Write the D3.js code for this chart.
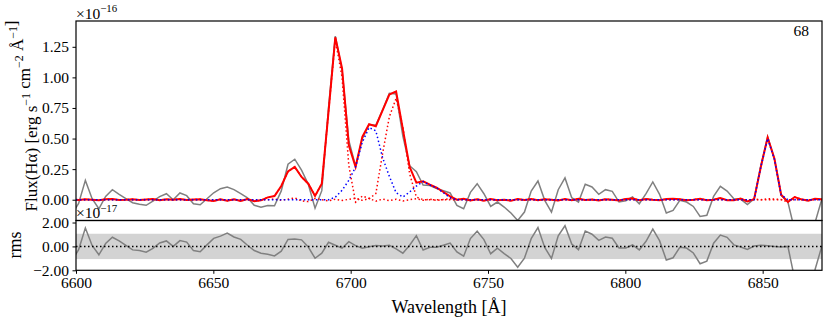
<html>
<head>
<meta charset="utf-8">
<script src="https://d3js.org/d3.v7.min.js"></script>
<style>
    body, html {
        margin: 0;
        padding: 0;
        background: #fff;
    }
    svg, svg text {
        font-family: "Liberation Serif", "DejaVu Serif", serif;
    }
</style>
</head>
<body>
<div id="chart"></div>
<script>

// spectrum sampling (Angstrom)
var lambdaStart = 6598.49;
var lambdaStep = 2.4594;

// observed flux, units of 1e-16 erg/s/cm2/A
var flux = [
    -0.12, -0.03, 0.158, 0.008, -0.074, 0.027, 0.082, 0.044, 0.008, -0.025,
    -0.038, -0.046, -0.011, 0.025, 0.049, 0.0, 0.055, 0.033, -0.033, -0.041,
    0.008, 0.057, 0.09, 0.104, 0.082, 0.049, 0.016, -0.046, -0.062, -0.047,
    -0.05, 0.072, 0.29, 0.331, 0.241, 0.126, -0.069, 0.074, 0.755, 1.338,
    1.059, 0.485, 0.275, 0.499, 0.615, 0.608, 0.734, 0.87, 0.865, 0.52,
    0.278, 0.229, 0.12, 0.116, 0.091, 0.073, 0.055, -0.046, -0.074, 0.06,
    0.131, 0.049, -0.055, -0.019, -0.06, -0.109, -0.17, -0.101, 0.071, 0.153,
    -0.005, -0.101, 0.082, 0.178, 0.016, -0.019, 0.126, 0.104, 0.044, 0.082,
    0.068, -0.019, -0.008, 0.022, -0.033, 0.049, 0.145, 0.044, -0.109, -0.087,
    -0.005, -0.019, -0.055, -0.137, -0.128, 0.027, 0.109, 0.071, 0.008, 0.005,
    -0.04, 0.008, 0.28, 0.514, 0.336, 0.036, -0.019, -0.25, -0.4, -0.35,
    -0.19, 0.0, 0.05
];

// total model (red solid)
var model = [
    0.002, -0.003, 0.004, 0.0, -0.004, 0.003, 0.005, -0.002, 0.0, 0.004,
    -0.003, 0.002, 0.005, -0.004, 0.003, 0.0, 0.006, -0.003, 0.002, 0.004,
    -0.005, -0.01, 0.004, -0.008, 0.003, -0.01, 0.006, -0.012, -0.005, 0.019,
    0.03, 0.112, 0.232, 0.268, 0.186, 0.131, 0.03, 0.131, 0.72, 1.328,
    1.074, 0.445, 0.268, 0.514, 0.617, 0.601, 0.73, 0.86, 0.885, 0.577,
    0.268, 0.139, 0.15, 0.123, 0.098, 0.063, 0.027, 0.0, 0.008, -0.006,
    0.004, -0.008, 0.006, -0.004, 0.0, -0.008, 0.005, -0.003, 0.006, -0.005,
    0.004, 0.0, -0.006, 0.005, -0.004, 0.008, -0.003, 0.002, -0.007, 0.004,
    0.0, -0.006, 0.005, 0.01, -0.004, 0.006, 0.0, -0.004, 0.005, 0.008,
    0.003, -0.005, 0.0, 0.008, -0.005, 0.0, 0.014, -0.005, -0.005, 0.01,
    -0.014, 0.005, 0.27, 0.508, 0.336, 0.041, -0.019, 0.022, 0.003, -0.008,
    0.008, 0.003, 0.0
];

// narrow component 1 (red dotted)
var narrowA = [
    0.002, -0.003, 0.004, 0.0, -0.004, 0.003, 0.005, -0.002, 0.0, 0.004,
    -0.003, 0.002, 0.005, -0.004, 0.003, 0.0, 0.006, -0.003, 0.002, 0.004,
    -0.005, -0.01, 0.004, -0.008, 0.003, -0.01, 0.006, -0.012, -0.005, 0.019,
    0.03, 0.112, 0.232, 0.268, 0.186, 0.131, 0.03, 0.131, 0.72, 1.31,
    1.0, 0.28, -0.02, 0.03, 0.01, -0.012, 0.005, -0.008, 0.004, -0.01,
    0.0, 0.008, -0.005, 0.004, -0.006, 0.002, 0.008, 0.0, 0.008, -0.006,
    0.004, -0.008, 0.006, -0.004, 0.0, -0.008, 0.005, -0.003, 0.006, -0.005,
    0.004, 0.0, -0.006, 0.005, -0.004, 0.008, -0.003, 0.002, -0.007, 0.004,
    0.0, -0.006, 0.005, 0.01, -0.004, 0.006, 0.0, -0.004, 0.005, 0.008,
    0.003, -0.005, 0.0, 0.008, -0.005, 0.0, 0.014, -0.005, -0.005, 0.01,
    -0.014, 0.005, 0.0, 0.008, 0.006, 0.001, -0.019, 0.022, 0.003, -0.008,
    0.008, 0.003, 0.0
];

// narrow component 2 (red dotted)
var narrowB = [
    0, 0, 0, 0, 0, 0, 0, 0, 0, 0,
    0, 0, 0, 0, 0, 0, 0, 0, 0, 0,
    0, 0, 0, 0, 0, 0, 0, 0, 0, 0,
    0.006, -0.004, 0.004, 0.015, -0.01, -0.015, 0.01, 0.0, -0.01, 0.004,
    -0.006, 0.003, 0.012, -0.005, 0.008, 0.05, 0.377, 0.678, 0.828, 0.596,
    0.213, 0.022, 0.0, 0, 0, 0, 0, 0, 0, 0,
    0, 0, 0, 0, 0, 0, 0, 0, 0, 0,
    0, 0, 0, 0, 0, 0, 0, 0, 0, 0,
    0, 0, 0, 0, 0, 0, 0, 0, 0, 0,
    0, 0, 0, 0, 0, 0, 0, 0, 0, 0,
    0, 0, 0, 0, 0, 0, 0, 0, 0, 0,
    0, 0, 0
];

// broad component (blue dotted)
var broad = [
    0, 0, 0, 0, 0, 0, 0, 0, 0, 0,
    0, 0, 0, 0, 0, 0, 0, 0, 0, 0,
    0, 0, 0, 0, 0, 0, 0, 0, 0, 0,
    0, 0, 0, 0, 0, 0, 0, 0, 0, 0.02,
    0.077, 0.158, 0.268, 0.47, 0.59, 0.563, 0.344, 0.191, 0.057, 0.022,
    0.063, 0.112, 0.148, 0.12, 0.098, 0.057, 0.016, 0, 0, 0,
    0, 0, 0, 0, 0, 0, 0, 0, 0, 0,
    0, 0, 0, 0, 0, 0, 0, 0, 0, 0,
    0, 0, 0, 0, 0, 0, 0, 0, 0, 0,
    0, 0, 0, 0, 0, 0, 0, 0, 0, 0,
    0, 0, 0.27, 0.5, 0.33, 0.04, 0, 0, 0, 0,
    0, 0, 0
];

// rms level, units of 1e-17
var rmsLevel = 1.06;

var fluxTicks = [0, 0.25, 0.5, 0.75, 1.0, 1.25];
var rmsTicks = [-2, 0, 2];
var waveTicks = [6600, 6650, 6700, 6750, 6800, 6850];
var panelLabel = "68";

var w = 831;
var h = 324;
var left = 76, right = 822;
var topY0 = 21, topY1 = 220.5;
var botY0 = 220.5, botY1 = 270.3;
var serif = "'Liberation Serif', 'DejaVu Serif', serif";

var svg = d3.select("#chart")
    .append("svg")
    .attr("width", w)
    .attr("height", h)
    .attr("font-family", serif);

var wave = flux.map(function(d, i){ return lambdaStart + i * lambdaStep; });
var resid = flux.map(function(d, i){ return (d - model[i]) * 10; });

var x = d3.scaleLinear().domain([6600, 6871.6]).range([left, right]);
var yTop = d3.scaleLinear().domain([-0.17, 1.461]).range([topY1, topY0]);
var yBot = d3.scaleLinear().domain([-2, 2.17]).range([botY1, botY0]);

var defs = svg.append("defs");
defs.append("clipPath").attr("id", "clipTop")
    .append("rect")
    .attr("x", left).attr("y", topY0)
    .attr("width", right - left).attr("height", topY1 - topY0);
defs.append("clipPath").attr("id", "clipBot")
    .append("rect")
    .attr("x", left).attr("y", botY0)
    .attr("width", right - left).attr("height", botY1 - botY0);

function lineFor(yScale){
    return d3.line()
        .x(function(d, i){ return x(wave[i]); })
        .y(function(d){ return yScale(d); });
}

// top panel
var gTop = svg.append("g").attr("clip-path", "url(#clipTop)");

gTop.append("path").datum(flux)
    .attr("d", lineFor(yTop))
    .attr("fill", "none").attr("stroke", "#808080").attr("stroke-width", 1.5);

gTop.append("path").datum(model)
    .attr("d", lineFor(yTop))
    .attr("fill", "none").attr("stroke", "#ff0000").attr("stroke-width", 2);

[narrowA, narrowB].forEach(function(arr){
    gTop.append("path").datum(arr)
        .attr("d", lineFor(yTop))
        .attr("fill", "none").attr("stroke", "#ff0000").attr("stroke-width", 1.5)
        .attr("stroke-dasharray", "1.5,2.5");
});

gTop.append("path").datum(broad)
    .attr("d", lineFor(yTop))
    .attr("fill", "none").attr("stroke", "#0000ff").attr("stroke-width", 1.5)
    .attr("stroke-dasharray", "1.5,2.5");

// bottom panel
var gBot = svg.append("g").attr("clip-path", "url(#clipBot)");

gBot.append("rect")
    .attr("x", left).attr("width", right - left)
    .attr("y", yBot(rmsLevel))
    .attr("height", yBot(-rmsLevel) - yBot(rmsLevel))
    .attr("fill", "#d3d3d3");

gBot.append("path").datum(resid)
    .attr("d", lineFor(yBot))
    .attr("fill", "none").attr("stroke", "#808080").attr("stroke-width", 1.5);

gBot.append("line")
    .attr("x1", left).attr("x2", right)
    .attr("y1", yBot(0)).attr("y2", yBot(0))
    .attr("stroke", "#000").attr("stroke-width", 1.5)
    .attr("stroke-dasharray", "1.5,2.5");

// axes
function styleAxis(g){
    g.attr("font-family", serif).attr("font-size", 15.5);
    g.select(".domain").remove();
    g.selectAll(".tick line").attr("stroke", "#000").attr("stroke-width", 1);
    g.selectAll(".tick text")
        .attr("fill", "#000")
        .style("font-size", "15.5px")
        .style("font-family", serif);
}

svg.append("g")
    .attr("transform", "translate(" + left + ",0)")
    .call(d3.axisLeft(yTop).tickValues(fluxTicks).tickFormat(d3.format(".2f")).tickSize(3.5).tickPadding(3.5))
    .call(styleAxis);

svg.append("g")
    .attr("transform", "translate(" + left + ",0)")
    .call(d3.axisLeft(yBot).tickValues(rmsTicks).tickFormat(d3.format(".2f")).tickSize(3.5).tickPadding(3.5))
    .call(styleAxis);

svg.append("g")
    .attr("transform", "translate(0," + botY1 + ")")
    .call(d3.axisBottom(x).tickValues(waveTicks).tickFormat(d3.format("d")).tickSize(3.5).tickPadding(3.5))
    .call(styleAxis);

// frames
svg.append("rect")
    .attr("x", left).attr("y", topY0)
    .attr("width", right - left).attr("height", topY1 - topY0)
    .attr("fill", "none").attr("stroke", "#000").attr("stroke-width", 1.2);
svg.append("rect")
    .attr("x", left).attr("y", botY0)
    .attr("width", right - left).attr("height", botY1 - botY0)
    .attr("fill", "none").attr("stroke", "#000").attr("stroke-width", 1.2);

// text with superscripts
function supText(sel, parts, size){
    parts.forEach(function(p){
        if (p[1]) {
            sel.append("tspan").attr("dy", -0.4 * size).style("font-size", (size * 0.7) + "px").text(p[0]);
            sel.append("tspan").attr("dy", 0.4 * size).text("");
        } else {
            sel.append("tspan").text(p[0]);
        }
    });
}

var off1 = svg.append("text").attr("x", left).attr("y", 18.5).style("font-size", "15.5px");
supText(off1, [["×10", false], ["−16", true]], 15.5);

var off2 = svg.append("text").attr("x", left).attr("y", 218).style("font-size", "15.5px");
supText(off2, [["×10", false], ["−17", true]], 15.5);

svg.append("text")
    .attr("x", 809).attr("y", 36)
    .attr("text-anchor", "end")
    .style("font-size", "15.5px")
    .text(panelLabel);

// y label top
var ylab = svg.append("text")
    .attr("transform", "translate(37,116) rotate(-90)")
    .attr("text-anchor", "middle")
    .style("font-size", "17px");
supText(ylab, [["Flux(Hα) [erg s", false], ["−1", true], [" cm", false], ["−2", true], [" Å", false], ["−1", true], ["]", false]], 17);

svg.append("text")
    .attr("transform", "translate(21,245) rotate(-90)")
    .attr("text-anchor", "middle")
    .style("font-size", "18px")
    .text("rms");

svg.append("text")
    .attr("x", (left + right) / 2).attr("y", 313)
    .attr("text-anchor", "middle")
    .style("font-size", "18px")
    .text("Wavelength [Å]");

</script>
</body>
</html>
